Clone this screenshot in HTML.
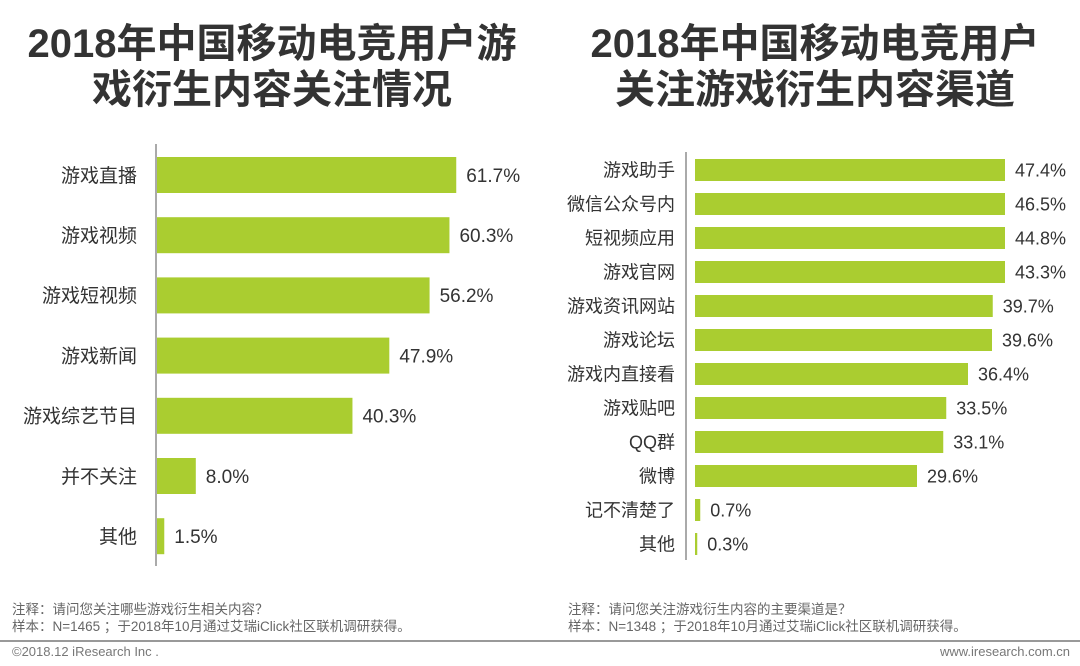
<!DOCTYPE html>
<html><head><meta charset="utf-8">
<style>
body{margin:0;width:1080px;height:666px;background:#fff;overflow:hidden;font-family:"Liberation Sans","Noto Sans CJK SC",sans-serif;}
svg{display:block}
</style></head>
<body>
<svg id="c" width="1080" height="666">
<text x="272" y="57" text-anchor="middle" font-size="40" font-weight="bold" fill="#333">2018年中国移动电竞用户游</text>
<text x="272" y="103" text-anchor="middle" font-size="40" font-weight="bold" fill="#333">戏衍生内容关注情况</text>
<text x="815" y="57" text-anchor="middle" font-size="40" font-weight="bold" fill="#333">2018年中国移动电竞用户</text>
<text x="815" y="103" text-anchor="middle" font-size="40" font-weight="bold" fill="#333">关注游戏衍生内容渠道</text>
<line x1="156" y1="144" x2="156" y2="566" stroke="#555" stroke-width="1"/>
<line x1="686" y1="152" x2="686" y2="560" stroke="#555" stroke-width="1"/>
<g id="L"></g><g id="R"></g>
<text x="12" y="614" font-size="13.5" fill="#666">注释：请问您关注哪些游戏衍生相关内容？</text>
<text x="12" y="631" font-size="13.5" fill="#666">样本：N=1465 ；于2018年10月通过艾瑞iClick社区联机调研获得。</text>
<text x="568" y="614" font-size="13.5" fill="#666">注释：请问您关注游戏衍生内容的主要渠道是？</text>
<text x="568" y="631" font-size="13.5" fill="#666">样本：N=1348 ；于2018年10月通过艾瑞iClick社区联机调研获得。</text>
<line x1="0" y1="641" x2="1080" y2="641" stroke="#999" stroke-width="2"/>
<text x="12" y="656" font-size="13" fill="#777">©2018.12 iResearch Inc .</text>
<text x="1070" y="656" text-anchor="end" font-size="13" fill="#777">www.iresearch.com.cn</text>
</svg>
<script>
const leftCats=["游戏直播","游戏视频","游戏短视频","游戏新闻","游戏综艺节目","并不关注","其他"];
const leftVals=[61.7,60.3,56.2,47.9,40.3,8.0,1.5];
const rightCats=["游戏助手","微信公众号内","短视频应用","游戏官网","游戏资讯网站","游戏论坛","游戏内直接看","游戏贴吧","QQ群","微博","记不清楚了","其他"];
const rightVals=[47.4,46.5,44.8,43.3,39.7,39.6,36.4,33.5,33.1,29.6,0.7,0.3];
const NS="http://www.w3.org/2000/svg";
function mk(t,a,p){const e=document.createElementNS(NS,t);for(const k in a)e.setAttribute(k,a[k]);p.appendChild(e);return e;}
function draw(g,cats,vals,x0,k,maxW,y0,step,bh,fs,lblX,valFs){
  cats.forEach((c,i)=>{
    const cy=y0+i*step;
    const w=Math.min(vals[i]*k,maxW);
    const r=mk('rect',{x:x0,y:cy-bh/2,width:Math.max(w,1.5),height:bh,fill:'#aacd30'},g);
    
    
    const l=mk('text',{x:lblX,y:cy+fs*0.36,'text-anchor':'end','font-size':fs,fill:'#333'},g);
    l.textContent=c;
    
    
    const v=mk('text',{x:x0+Math.max(w,1.5)+10,y:cy+valFs*0.36,'font-size':valFs,fill:'#333'},g);
    v.textContent=vals[i].toFixed(1)+'%';
    
    
  });
}
draw(document.getElementById('L'),leftCats,leftVals,157,4.85,1000,175,60.2,36,19,137,19);
draw(document.getElementById('R'),rightCats,rightVals,695,7.5,310,170,34,22,18,675,18);
</script>
</body></html>
